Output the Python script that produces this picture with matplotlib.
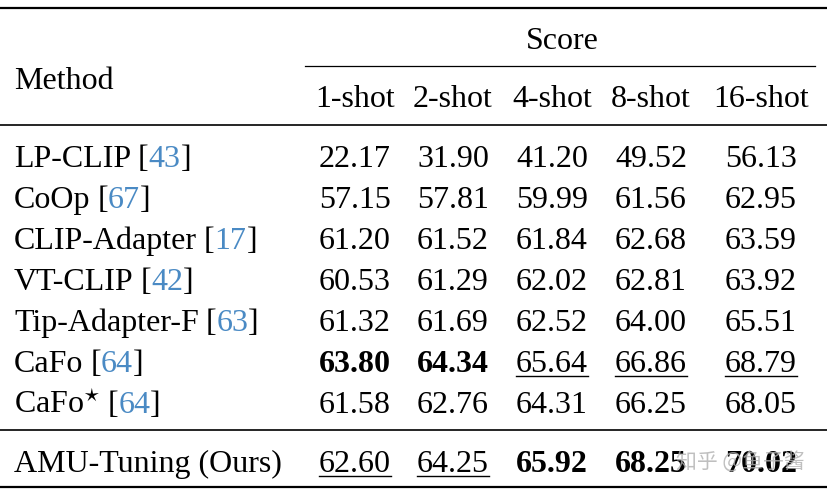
import matplotlib
matplotlib.use("Agg")
import matplotlib.pyplot as plt

plt.rcParams['font.family'] = ['Liberation Serif', 'DejaVu Serif']
plt.rcParams['mathtext.fontset'] = 'dejavuserif'

columns = ['1-shot', '2-shot', '4-shot', '8-shot', '16-shot']
methods = ['LP-CLIP', 'CoOp', 'CLIP-Adapter', 'VT-CLIP', 'Tip-Adapter-F', 'CaFo', r'CaFo$^{\star}$', 'AMU-Tuning (Ours)']
refs = ['43', '67', '17', '42', '63', '64', '64', '']
scores = [
    [22.17, 31.90, 41.20, 49.52, 56.13],
    [57.15, 57.81, 59.99, 61.56, 62.95],
    [61.20, 61.52, 61.84, 62.68, 63.59],
    [60.53, 61.29, 62.02, 62.81, 63.92],
    [61.32, 61.69, 62.52, 64.00, 65.51],
    [63.80, 64.34, 65.64, 66.86, 68.79],
    [61.58, 62.76, 64.31, 66.25, 68.05],
    [62.60, 64.25, 65.92, 68.25, 70.02],
]
bold = {(5, 0), (5, 1), (7, 2), (7, 3), (7, 4)}
underline = {(5, 2), (5, 3), (5, 4), (7, 0), (7, 1)}

W, H = 828, 498
fig = plt.figure(figsize=(W / 100, H / 100), dpi=100)
ax = fig.add_axes([0, 0, 1, 1])
ax.set_xlim(0, W)
ax.set_ylim(H, 0)
ax.axis('off')
fs = 23
blue = '#4a8ac4'
col_x = [355, 453, 552, 651, 761]
row_y = [156, 197, 238, 279, 320, 361, 402, 461]

# rules
ax.plot([0, W], [8, 8], color='black', lw=1.6)
ax.plot([305, 815], [66, 66], color='black', lw=0.9)
ax.plot([0, W], [125, 125], color='black', lw=1.2)
ax.plot([0, W], [430, 430], color='black', lw=1.2)
ax.plot([0, W], [487, 487], color='black', lw=1.6)

ax.text(14, 81, 'Method', fontsize=fs, va='center', ha='left')
ax.text(562, 41, 'Score', fontsize=fs, va='center', ha='center')
for x, c in zip(col_x, columns):
    ax.text(x, 99, c, fontsize=fs, va='center', ha='center')

fig.canvas.draw()
r = fig.canvas.get_renderer()
inv = ax.transData.inverted()

for i, (m, ref) in enumerate(zip(methods, refs)):
    y = row_y[i]
    t = ax.text(14, y, m, fontsize=fs, va='center_baseline', ha='left')
    if ref:
        bb = t.get_window_extent(r)
        x1 = inv.transform((bb.x1, bb.y0))[0]
        t2 = ax.text(x1 + 7, y, '[', fontsize=fs, va='center_baseline', ha='left')
        bb = t2.get_window_extent(r)
        x2 = inv.transform((bb.x1, bb.y0))[0]
        t3 = ax.text(x2, y, ref, fontsize=fs, va='center_baseline', ha='left', color=blue)
        bb = t3.get_window_extent(r)
        x3 = inv.transform((bb.x1, bb.y0))[0]
        ax.text(x3, y, ']', fontsize=fs, va='center_baseline', ha='left')
    for j, v in enumerate(scores[i]):
        t = ax.text(col_x[j], y, f'{v:.2f}', fontsize=fs, va='center_baseline', ha='center',
                    fontweight='bold' if (i, j) in bold else 'normal')
        if (i, j) in underline:
            bb = t.get_window_extent(r)
            (a, _), (b, _) = inv.transform([(bb.x0, bb.y0), (bb.x1, bb.y0)])
            ax.plot([a, b], [y + 15, y + 15], color='black', lw=1)

ax.text(740, 462, '知乎 @鱼子酱', fontsize=15, va='center', ha='center', color='#b0b0b0',
        alpha=0.8, family=['Noto Sans CJK SC', 'DejaVu Sans'])

fig.savefig('out.png', dpi=100)
